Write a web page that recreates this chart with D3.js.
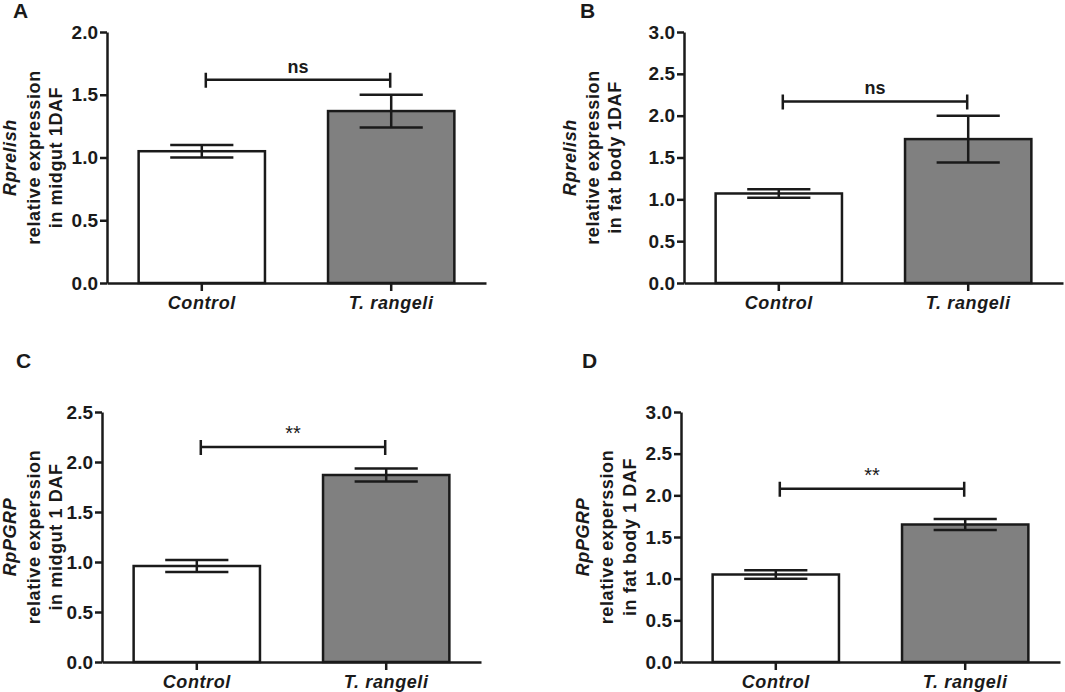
<!DOCTYPE html>
<html>
<head>
<meta charset="utf-8">
<script src="https://cdn.jsdelivr.net/npm/d3@7"></script>
<style>
  body { margin: 0; background: #fff; }
  text { font-family: "Liberation Sans", Arial, sans-serif; fill: #1a1a1a; }
</style>
</head>
<body>
<svg id="fig" width="1065" height="692"></svg>
<script>
// groups shared by all four panels
const groups = ["Control", "T. rangeli"];
const barColors = ["#ffffff", "#808080"];

// panel A: Rprelish, midgut
const meansA = [1.05, 1.37];
const errA = [0.05, 0.13];
// panel B: Rprelish, fat body
const meansB = [1.07, 1.72];
const errB = [0.05, 0.28];
// panel C: RpPGRP, midgut
const meansC = [0.96, 1.87];
const errC = [0.06, 0.065];
// panel D: RpPGRP, fat body
const meansD = [1.05, 1.65];
const errD = [0.05, 0.065];

const yMaxs = [2.0, 3.0, 2.5, 3.0];
const yTicks = [
  [0, 0.5, 1.0, 1.5, 2.0],
  [0, 0.5, 1.0, 1.5, 2.0, 2.5, 3.0],
  [0, 0.5, 1.0, 1.5, 2.0, 2.5],
  [0, 0.5, 1.0, 1.5, 2.0, 2.5, 3.0]
];
const sigLabels = ["ns", "ns", "**", "**"];
const sigLevels = [1.62, 2.17, 2.15, 2.08];
const geneNames = ["Rprelish", "Rprelish", "RpPGRP", "RpPGRP"];
const labelLines = [
  ["relative expression", "in midgut 1DAF"],
  ["relative expression", "in fat body 1DAF"],
  ["relative experssion", "in midgut 1 DAF"],
  ["relative experssion", "in fat body 1 DAF"]
];
const panelLetters = ["A", "B", "C", "D"];

// layout of each panel (axis origin and label offsets)
const layout = [
  { x: 107, top: 32, bottom: 283, letter: [13, 18], lab: [-97, -73, -51] },
  { x: 684, top: 32, bottom: 283, letter: [580, 18], lab: [-114, -91, -69] },
  { x: 102, top: 412, bottom: 662, letter: [16, 368], lab: [-92, -68, -46] },
  { x: 681, top: 412, bottom: 662, letter: [582, 368], lab: [-98, -74, -51] }
];
const plotW = 379;

const allMeans = [meansA, meansB, meansC, meansD];
const allErr = [errA, errB, errC, errD];

const svg = d3.select("#fig");
const ink = "#1a1a1a";

layout.forEach((p, i) => {
  const g = svg.append("g");

  const x = d3.scaleBand()
    .domain(groups)
    .range([p.x, p.x + plotW])
    .paddingInner(0.333)
    .paddingOuter(0.167);

  const y = d3.scaleLinear()
    .domain([0, yMaxs[i]])
    .range([p.bottom, p.top]);

  const data = groups.map((k, j) => ({ k: k, m: allMeans[i][j], e: allErr[i][j], c: barColors[j] }));

  // bars
  g.selectAll("rect.bar")
    .data(data)
    .enter()
    .append("rect")
    .attr("class", "bar")
    .attr("x", d => x(d.k))
    .attr("width", x.bandwidth())
    .attr("y", d => y(d.m))
    .attr("height", d => y(0) - y(d.m))
    .attr("fill", d => d.c)
    .attr("stroke", ink)
    .attr("stroke-width", 2.5);

  // error bars
  const cap = x.bandwidth() / 4;
  data.forEach(d => {
    const cx = x(d.k) + x.bandwidth() / 2;
    g.append("line")
      .attr("x1", cx).attr("x2", cx)
      .attr("y1", y(d.m + d.e)).attr("y2", y(d.m - d.e))
      .attr("stroke", ink).attr("stroke-width", 2.5);
    [d.m + d.e, d.m - d.e].forEach(v => {
      g.append("line")
        .attr("x1", cx - cap).attr("x2", cx + cap)
        .attr("y1", y(v)).attr("y2", y(v))
        .attr("stroke", ink).attr("stroke-width", 2.5);
    });
  });

  // y axis
  const yAxis = g.append("g")
    .attr("transform", "translate(" + p.x + ",0)")
    .call(d3.axisLeft(y).tickValues(yTicks[i]).tickFormat(d3.format(".1f")).tickSize(7).tickSizeOuter(0).tickPadding(2));

  // x axis
  const xAxis = g.append("g")
    .attr("transform", "translate(0," + p.bottom + ")")
    .call(d3.axisBottom(x).tickSize(8).tickSizeOuter(0).tickPadding(5));

  [yAxis, xAxis].forEach(a => {
    a.select(".domain").attr("stroke", ink).attr("stroke-width", 2.5);
    a.selectAll(".tick line").attr("stroke", ink).attr("stroke-width", 2.5);
  });
  yAxis.selectAll(".tick text")
    .attr("font-size", 19).attr("font-weight", "bold").attr("fill", ink)
    .attr("font-family", "Liberation Sans, Arial, sans-serif");
  xAxis.selectAll(".tick text")
    .attr("font-size", 18).attr("font-weight", "bold").attr("font-style", "italic")
    .attr("fill", ink).attr("letter-spacing", 0.6)
    .attr("font-family", "Liberation Sans, Arial, sans-serif");

  // significance bracket
  const x1 = x(groups[0]) + x.bandwidth() / 2 + 4;
  const x2 = x(groups[1]) + x.bandwidth() / 2 - 1;
  const sy = y(sigLevels[i]);
  g.append("path")
    .attr("d", "M" + x1 + "," + (sy - 7) + "V" + (sy + 8) + "M" + x1 + "," + sy + "H" + x2 + "M" + x2 + "," + (sy - 7) + "V" + (sy + 8))
    .attr("fill", "none").attr("stroke", ink).attr("stroke-width", 2.5);
  g.append("text")
    .attr("x", (x1 + x2) / 2)
    .attr("y", sy - 7)
    .attr("text-anchor", "middle")
    .attr("font-size", sigLabels[i] === "ns" ? 18 : 20)
    .attr("font-weight", sigLabels[i] === "ns" ? "bold" : "normal")
    .text(sigLabels[i]);

  // y axis title (three lines, rotated)
  const cy = (p.top + p.bottom) / 2;
  const lines = [geneNames[i]].concat(labelLines[i]);
  lines.forEach((t, j) => {
    g.append("text")
      .attr("transform", "translate(" + (p.x + p.lab[j]) + "," + cy + ") rotate(-90)")
      .attr("text-anchor", "middle")
      .attr("dy", "0.36em")
      .attr("font-size", 18)
      .attr("font-weight", "bold")
      .attr("font-style", j === 0 ? "italic" : "normal")
      .attr("letter-spacing", 0.6)
      .text(t);
  });

  // panel letter
  g.append("text")
    .attr("x", p.letter[0])
    .attr("y", p.letter[1])
    .attr("font-size", 21)
    .attr("font-weight", "bold")
    .text(panelLetters[i]);
});
</script>
</body>
</html>
